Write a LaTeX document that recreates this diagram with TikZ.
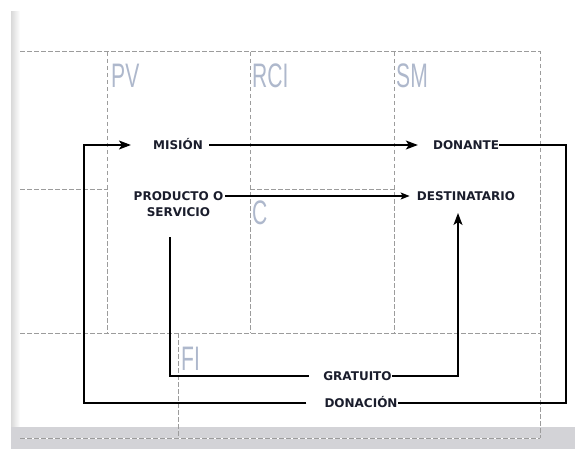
\documentclass[tikz,border=0pt]{standalone}
\usepackage{fontspec}
\usetikzlibrary{arrows.meta}
\newfontfamily\etiq{DejaVu Sans}
\newfontfamily\zona[FakeStretch=0.62]{Liberation Sans}
\definecolor{rejilla}{HTML}{9C9C9C}
\definecolor{zonacol}{HTML}{AEB8CC}
\definecolor{texto}{HTML}{1A1D2C}
\definecolor{banda}{HTML}{D3D3D7}

\begin{document}
\begin{tikzpicture}[x = 1pt, y = -1pt,
  grid/.style = {draw = rejilla, line width = 1pt, dash pattern = on 4.5pt off 2.5pt},
  zone/.style = {anchor = base west, inner sep = 0pt, text = zonacol, font = \zona\fontsize{34}{34}\selectfont},
  lab/.style = {inner sep = 0pt, text height = 9pt, text depth = 0pt, text = texto, font = \etiq\bfseries\fontsize{12}{14}\selectfont},
  link/.style = {line width = 1.4pt},
  flecha/.style = {link, -{Stealth[length = 12pt, width = 9pt, inset = 3pt]}},
  flechita/.style = {link, -{Stealth[length = 9pt, width = 7pt, inset = 2pt]}}]
\useasboundingbox (0,0) rectangle (575,449);
% background
\fill[left color = gray!30, right color = white] (11,12) rectangle (20,427);
\fill[banda] (11,427) rectangle (575,449);
% grid
\draw[grid] (20,52) -- (540,52) -- (540,438);
\draw[grid] (20,189) -- (107,189);
\draw[grid] (250,189) -- (394,189);
\draw[grid] (20,333) -- (540,333);
\draw[grid] (107,52) -- (107,333);
\draw[grid] (250,52) -- (250,333);
\draw[grid] (394,52) -- (394,333);
\draw[grid] (178,333) -- (178,438);
\draw[white, line width = 1pt] (20,438) -- (540,438);
\draw[grid] (20,438) -- (540,438);
% zones
\node[zone] (pv) at (111,88) {PV};
\node[zone] (rci) at (252,88) {RCI};
\node[zone] (sm) at (396,88) {SM};
\node[zone] (c) at (252,224) {C};
\node[zone] (fi) at (181,370) {FI};
% labels
\node[lab] (mision) at (178,145) {MISIÓN};
\node[lab] (donante) at (466,145) {DONANTE};
\node[lab] (producto) at (178.5,196) {PRODUCTO O};
\node[lab] (servicio) at (178.5,212) {SERVICIO};
\node[lab] (destino) at (466,196) {DESTINATARIO};
\node[lab] (gratuito) at (357.5,376) {GRATUITO};
\node[lab] (donacion) at (361,403) {DONACIÓN};
% connectors
\coordinate (derecha) at (566,403);
\coordinate (izquierda) at (84,403);
\coordinate (bajo) at (170,237);
\coordinate (punta) at (458,213);
\draw[link] (donante.east) -| (derecha) -- (donacion.east);
\draw[flecha] ([xshift = -18pt]donacion.west) -- (izquierda) |- ([xshift = -22pt]mision.west);
\draw[flecha] ([xshift = 6pt]mision.east) -- ([xshift = -15pt]donante.west);
\draw[flechita] ([xshift = 2pt]producto.east) -- ([xshift = -7pt]destino.west);
\draw[link] (bajo) |- ([xshift = -14pt]gratuito.west);
\draw[flecha] (gratuito.east) -| (punta);
\end{tikzpicture}
\end{document}
